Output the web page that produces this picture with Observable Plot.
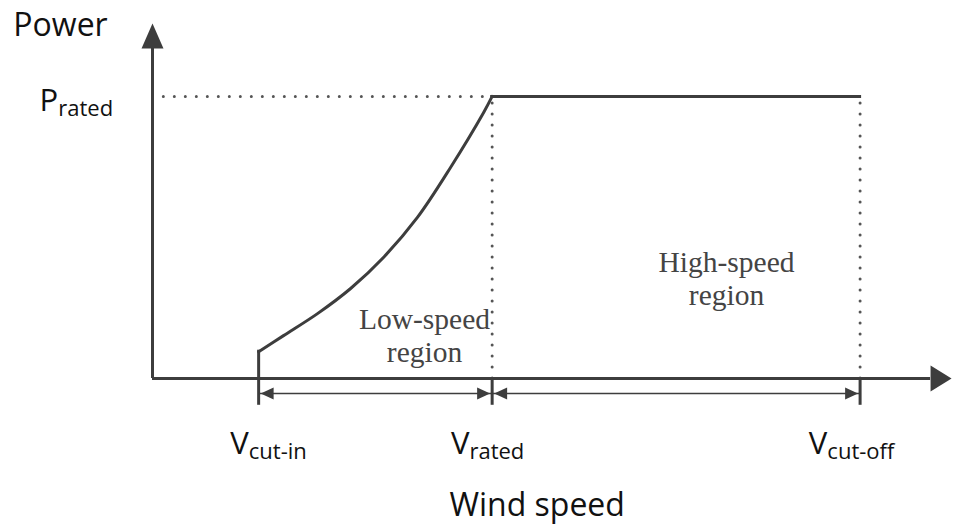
<!DOCTYPE html>
<html>
<head>
<meta charset="utf-8">
<script src="https://cdn.jsdelivr.net/npm/d3@7"></script>
<script src="https://cdn.jsdelivr.net/npm/@observablehq/plot@0.6"></script>
<style>
  html, body { margin: 0; padding: 0; background: #fff; }
  #chart svg { display: block; overflow: visible; }
</style>
</head>
<body>
<div id="chart"></div>
<script>
// ---- data (wind speed in m/s-like units, power as fraction of rated) ----
const vCutIn = 3.75;
const vRated = 12;
const vCutOff = 25;
const pCutIn = 0.095;
const pRated = 1;

// low-speed region power curve
const curveSpeed = [3.75, 4.63, 5.83, 7.0, 8.16, 9.36, 10.53, 11.7, 12.0];
const curvePower = [0.095, 0.152, 0.23, 0.319, 0.429, 0.571, 0.748, 0.943, 1.0];

const tickSpeeds = [vCutIn, vRated, vCutOff];
const regionStart = [vCutIn, vRated];
const regionEnd = [vRated, vCutOff];

const axisTitles = ["Power", "Wind speed"];
const axisTitleX = [-3.25, 13.59];
const axisTitleY = [1.216, -0.486];

const symMain = ["P", "V", "V", "V"];
const symSub = ["rated", "cut-in", "rated", "cut-off"];
const symX = [-2.69, 4.1, 11.84, 24.7];
const symY = [0.95, -0.266, -0.266, -0.266];

const regionLabels = ["Low-speed\nregion", "High-speed\nregion"];
const regionLabelX = [9.61, 20.28];
const regionLabelY = [0.06, 0.259];

const xMax = 28.3, yMax = 1.255;
const axisEndX = 27.49, axisEndY = 1.17;

// ---- build tables ----
const curve = curveSpeed.map((s, i) => ({s, p: curvePower[i]}));
const titles = axisTitles.map((t, i) => ({t, x: axisTitleX[i], y: axisTitleY[i]}));
const syms = symMain.map((m, i) => ({t: m + symSub[i], x: symX[i], y: symY[i]}));
const regions = regionLabels.map((t, i) => ({t, x: regionLabelX[i], y: regionLabelY[i]}));
const spans = regionStart.map((a, i) => ({a, b: regionEnd[i]}));

const ink = "#3d3d3d";
const shaftY = -0.053;

const plot = Plot.plot({
  width: 953,
  height: 529,
  marginLeft: 152,
  marginRight: 0,
  marginTop: 24,
  marginBottom: 151,
  x: {domain: [0, xMax], axis: null},
  y: {domain: [0, yMax], axis: null},
  style: {background: "#fff", overflow: "visible"},
  marks: [
    // dotted guides
    Plot.ruleY([pRated], {x1: 0.4, x2: vRated, stroke: "#555", strokeWidth: 3, strokeDasharray: "0,11", strokeLinecap: "round"}),
    Plot.ruleX([vRated, vCutOff], {y1: 0, y2: pRated, stroke: "#555", strokeWidth: 3, strokeDasharray: "0,11", strokeLinecap: "round"}),
    // axes
    Plot.ruleX([0], {y1: 0, y2: axisEndY, stroke: ink, strokeWidth: 3}),
    Plot.ruleY([0], {x1: 0, x2: axisEndX, stroke: ink, strokeWidth: 3}),
    Plot.vector([0], {x: 0, y: axisEndY, rotate: 0, length: 25, shape: "spike", r: 11, anchor: "start", fill: ink, stroke: "none"}),
    Plot.vector([0], {x: axisEndX, y: 0, rotate: 90, length: 21, shape: "spike", r: 13, anchor: "start", fill: ink, stroke: "none"}),
    // ticks below axis
    Plot.ruleX(tickSpeeds, {y1: 0, y2: -0.095, stroke: ink, strokeWidth: 3}),
    // region span arrows
    Plot.ruleY(spans, {y: () => shaftY, x1: "a", x2: "b", stroke: ink, strokeWidth: 1.5}),
    Plot.vector(spans, {x: "a", y: () => shaftY, dx: 2, rotate: 270, length: 13, shape: "spike", r: 6, anchor: "end", fill: ink, stroke: "none"}),
    Plot.vector(spans, {x: "b", y: () => shaftY, dx: -2, rotate: 90, length: 13, shape: "spike", r: 6, anchor: "end", fill: ink, stroke: "none"}),
    // power curve: cut-in step, low-speed curve, rated plateau
    Plot.ruleX([vCutIn], {y1: 0, y2: pCutIn, stroke: ink, strokeWidth: 3, strokeLinecap: "square"}),
    Plot.line(curve, {x: "s", y: "p", stroke: ink, strokeWidth: 3, curve: "catmull-rom"}),
    Plot.ruleY([pRated], {x1: vRated, x2: vCutOff, stroke: ink, strokeWidth: 3, strokeLinecap: "square"}),
    // texts
    Plot.text(titles, {x: "x", y: "y", text: "t", textAnchor: "middle", lineAnchor: "bottom", fontSize: 32, fontFamily: "Open Sans", fill: "#111"}),
    Plot.text(syms, {x: "x", y: "y", text: "t", textAnchor: "middle", lineAnchor: "bottom", fontSize: 31, fontFamily: "Open Sans", fill: "#111"}),
    Plot.text(regions, {x: "x", y: "y", text: "t", textAnchor: "middle", lineAnchor: "bottom", lineHeight: 1.12, fontSize: 29.5, fontFamily: "Liberation Serif", fill: "#444"})
  ]
});

// render subscripts as tspans
d3.select(plot).selectAll("text").each(function() {
  const txt = this.textContent;
  const i = symMain.findIndex((m, k) => m + symSub[k] === txt);
  if (i >= 0) {
    const el = d3.select(this);
    el.text(symMain[i]);
    el.append("tspan").attr("font-size", 22).attr("dy", 5).text(symSub[i]);
  }
});

document.getElementById("chart").appendChild(plot);
</script>
</body>
</html>
